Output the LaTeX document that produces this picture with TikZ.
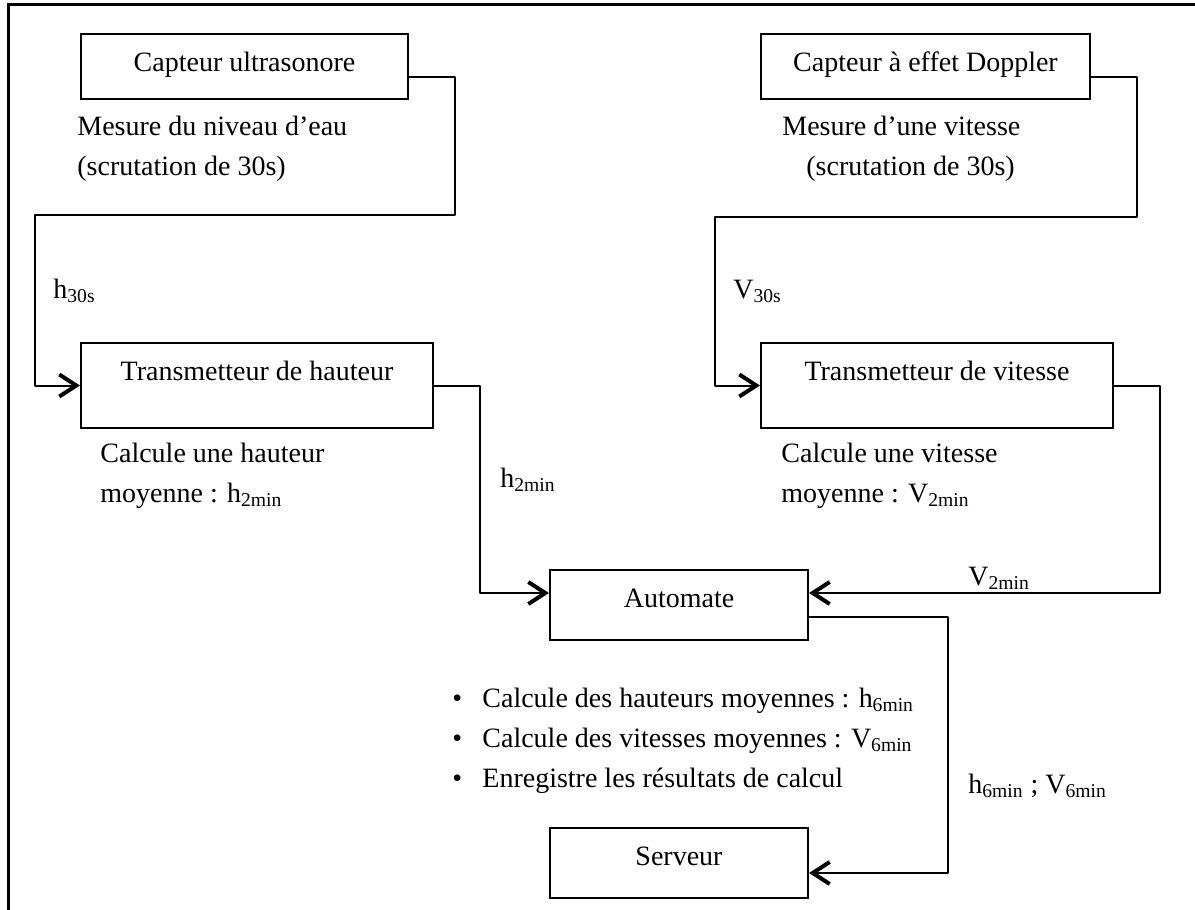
\documentclass[tikz,border=0pt]{standalone}
\usepackage{fontspec}
\setmainfont{Liberation Serif}
\usetikzlibrary{arrows.meta}

\begin{document}
\begin{tikzpicture}[
  x=0.5pt, y=-0.5pt,
  font=\fontsize{14}{20}\selectfont,
  bloc/.style={
    draw, line width=1pt, inner sep=0pt, text height=18.5pt, anchor=base
  },
  texte/.style={
    inner sep=0pt, anchor=base west, align=left
  },
  fleche/.style={
    line width=1pt, line join=round,
    -{Straight Barb[length=8.5pt,width=11pt,line width=2pt]}
  }
]

\useasboundingbox (0,0) rectangle (1195,910);
\draw [line width=1.5pt] (1195,4) -- (8,4) -- (8,910);

% capteurs
\draw (244.5,71) node [bloc, minimum width=163.5pt, text depth=14pt] (cu) {Capteur ultrasonore};
\draw (925.5,71) node [bloc, minimum width=164.5pt, text depth=14pt] (cd) {Capteur à effet Doppler};
\draw (77,175) node [texte] (mu) {Mesure du niveau d’eau\\(scrutation de 30s)};
\draw (782,175) node [texte] (md) {Mesure d’une vitesse\\\hspace*{12pt}(scrutation de 30s)};

% transmetteurs
\draw (257,380) node [bloc, minimum width=176pt, text depth=24pt] (th) {Transmetteur de hauteur};
\draw (937,380) node [bloc, minimum width=176pt, text depth=24pt] (tv) {Transmetteur de vitesse};
\draw (100,502) node [texte] (ch) {Calcule une hauteur\\moyenne : h\textsubscript{2min}};
\draw (781,502) node [texte] (cv) {Calcule une vitesse\\moyenne : V\textsubscript{2min}};

% automate et serveur
\draw (679,607) node [bloc, minimum width=129pt, text depth=16.5pt] (au) {Automate};
\draw (679,865) node [bloc, minimum width=129pt, text depth=16.5pt] (se) {Serveur};
\draw (452,787) node [texte] (ca) {%
  \makebox[15pt][l]{\textbullet}Calcule des hauteurs moyennes : h\textsubscript{6min}\\
  \makebox[15pt][l]{\textbullet}Calcule des vitesses moyennes : V\textsubscript{6min}\\
  \makebox[15pt][l]{\textbullet}Enregistre les résultats de calcul};

% etiquettes
\draw (53,298) node [texte] (lh30) {h\textsubscript{30s}};
\draw (733,298) node [texte] (lv30) {V\textsubscript{30s}};
\draw (500,487) node [texte] (lh2) {h\textsubscript{2min}};
\draw (968,585) node [texte] (lv2) {V\textsubscript{2min}};
\draw (968,793) node [texte] (lhv6) {h\textsubscript{6min} ; V\textsubscript{6min}};

% coudes
\coordinate (a1) at (455,215);
\coordinate (a2) at (35,215);
\coordinate (b1) at (1137,217);
\coordinate (b2) at (715,217);
\coordinate (c1) at (480,593);
\coordinate (d1) at (1160,593);
\coordinate (e1) at (948,617);
\coordinate (e2) at (948,873);

\draw [fleche] ([yshift=-5pt]cu.east) -| (a1) -- (a2) |- (th.west);
\draw [fleche] ([yshift=-5pt]cd.east) -| (b1) -- (b2) |- (tv.west);
\draw [fleche] (th.east) -| (c1) -- (au.west |- c1);
\draw [fleche] (tv.east) -| (d1) -- (au.east |- d1);
\draw [fleche] (au.east |- e1) -- (e1) -- (e2) -- (se.east |- e2);
\end{tikzpicture}
\end{document}
